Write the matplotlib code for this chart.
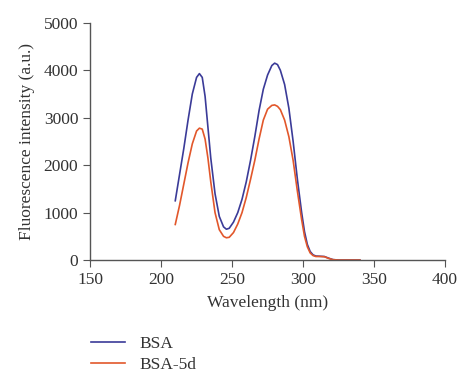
import numpy as np
import matplotlib
matplotlib.use('Agg')
import matplotlib.pyplot as plt

plt.rcParams['font.family'] = ['Liberation Serif', 'DejaVu Serif']

# wavelength (nm)
wl = [210, 213, 216, 219, 222, 225, 227, 229, 231, 233, 235, 238, 241, 244, 246, 248,
      251, 254, 257, 260, 263, 266, 269, 272, 275, 278, 280, 282, 284, 287, 290, 293,
      296, 299, 301, 303, 305, 307, 309, 312, 315, 318, 321, 325, 330, 340]
bsa = [1250, 1800, 2350, 2950, 3500, 3850, 3930, 3850, 3450, 2800, 2150, 1400, 920, 700, 650, 670,
       800, 1000, 1280, 1650, 2100, 2600, 3150, 3600, 3900, 4100, 4150, 4120, 4000, 3700, 3200, 2500,
       1700, 1000, 600, 330, 180, 110, 85, 80, 75, 40, 10, 0, 0, 0]
bsa_5d = [750, 1150, 1600, 2050, 2450, 2720, 2780, 2760, 2550, 2150, 1650, 1000, 640, 500, 470, 480,
          580, 760, 1000, 1320, 1700, 2100, 2550, 2950, 3180, 3260, 3270, 3240, 3170, 2950, 2600, 2100,
          1450, 850, 500, 280, 150, 95, 75, 75, 70, 35, 8, 0, 0, 0]

fig = plt.figure(figsize=(4.74, 3.87), dpi=100)
ax = fig.add_axes([0.19, 0.328, 0.749, 0.613])

ax.plot(wl, bsa, color='#3b3b98', lw=1.2, label='BSA')
ax.plot(wl, bsa_5d, color='#e2572b', lw=1.2, label='BSA-5d')

ax.set_xlim(150, 400)
ax.set_ylim(0, 5000)
ax.set_xticks([150, 200, 250, 300, 350, 400])
ax.set_yticks([0, 1000, 2000, 3000, 4000, 5000])
ax.spines['top'].set_visible(False)
ax.spines['right'].set_visible(False)
for s in ['left', 'bottom']:
    ax.spines[s].set_color('#555555')
    ax.spines[s].set_linewidth(1.0)
ax.tick_params(direction='out', length=5, color='#555555', labelsize=12.5, labelcolor='#333333')
ax.set_xlabel('Wavelength (nm)', fontsize=12.5, color='#333333', labelpad=5)
ax.set_ylabel('Fluorescence intensity (a.u.)', fontsize=12.5, color='#333333', labelpad=6)

fig.legend(loc='upper left', bbox_to_anchor=(0.158, 0.172), frameon=False,
           fontsize=12.5, handlelength=2.0, labelspacing=0.25, labelcolor='#333333')

fig.savefig('out.png', dpi=100)
